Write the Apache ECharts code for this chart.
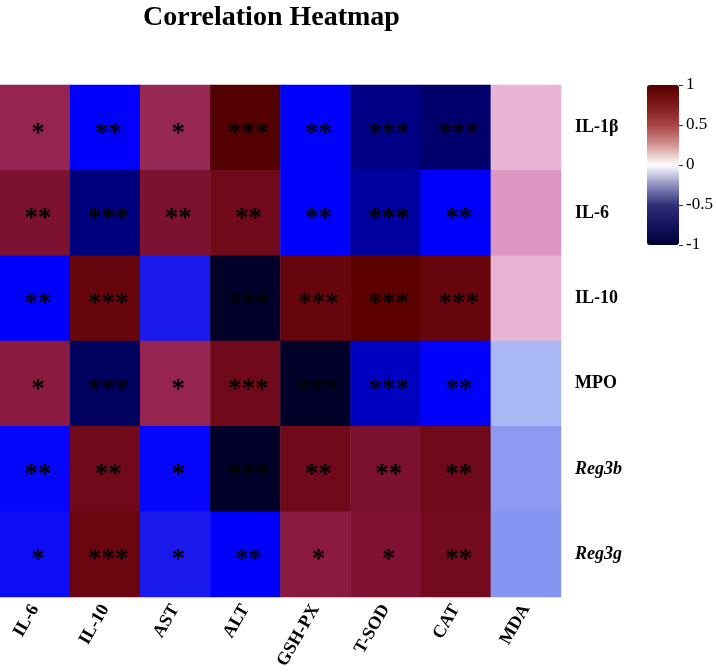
<!DOCTYPE html>
<html><head><meta charset="utf-8">
<script src="https://cdn.jsdelivr.net/npm/echarts/dist/echarts.min.js"></script>
<style>html,body{margin:0;padding:0;background:#fff}#c{width:716px;height:672px}</style>
</head><body><div id="c"></div>
<script>
// Row (y) and column (x) categories
const rowLabels = ['IL-1β', 'IL-6', 'IL-10', 'MPO', 'Reg3b', 'Reg3g'];
const colLabels = ['IL-6', 'IL-10', 'AST', 'ALT', 'GSH-PX', 'T-SOD', 'CAT', 'MDA'];
const italicRows = ['Reg3b', 'Reg3g'];

// Correlation values, one array per row
const corrIL1b  = [0.45, -0.60, 0.44, 0.90, -0.60, -0.77, -0.80, 0.10];
const corrIL6   = [0.58, -0.78, 0.58, 0.66, -0.60, -0.74, -0.60, 0.20];
const corrIL10  = [-0.60, 0.72, -0.52, -0.90, 0.72, 0.80, 0.72, 0.10];
const corrMPO   = [0.50, -0.82, 0.45, 0.66, -0.90, -0.70, -0.60, -0.10];
const corrReg3b = [-0.58, 0.66, -0.58, -0.90, 0.66, 0.58, 0.66, -0.18];
const corrReg3g = [-0.56, 0.70, -0.52, -0.60, 0.50, 0.56, 0.65, -0.20];

// Significance marks, one array per row
const starsIL1b  = ['*', '**', '*', '***', '**', '***', '***', ''];
const starsIL6   = ['**', '***', '**', '**', '**', '***', '**', ''];
const starsIL10  = ['**', '***', '', '***', '***', '***', '***', ''];
const starsMPO   = ['*', '***', '*', '***', '***', '***', '**', ''];
const starsReg3b = ['**', '**', '*', '***', '**', '**', '**', ''];
const starsReg3g = ['*', '***', '*', '**', '*', '*', '**', ''];

// Colour bar ticks
const legendTicks = [-1, -0.5, 0, 0.5, 1];

const corr = [corrIL1b, corrIL6, corrIL10, corrMPO, corrReg3b, corrReg3g];
const stars = [starsIL1b, starsIL6, starsIL10, starsMPO, starsReg3b, starsReg3g];

const heatData = [];
corr.forEach((row, r) => row.forEach((v, c) => heatData.push([c, r, v])));

const serif = 'Liberation Serif';
const chart = echarts.init(document.getElementById('c'), null, {renderer: 'canvas'});
chart.setOption({
  backgroundColor: '#ffffff',
  animation: false,
  title: {
    text: 'Correlation Heatmap',
    left: 143, top: 4, padding: 0,
    textStyle: {fontFamily: serif, fontWeight: 'bold', fontSize: 28, color: '#000'}
  },
  grid: [
    {left: 0, right: 155, top: 85, bottom: 74},
    {left: 647, width: 32, top: 85, height: 160}
  ],
  xAxis: [
    {
      type: 'category', data: colLabels, gridIndex: 0,
      axisLine: {show: false}, axisTick: {show: false}, splitLine: {show: false},
      axisLabel: {rotate: 60, interval: 0, margin: 9, color: '#000',
        fontFamily: serif, fontWeight: 'bold', fontSize: 18}
    },
    {type: 'value', gridIndex: 1, show: false, min: 0, max: 1}
  ],
  yAxis: [
    {
      type: 'category', data: rowLabels, gridIndex: 0, inverse: true, position: 'right',
      axisLine: {show: false}, axisTick: {show: false}, splitLine: {show: false},
      axisLabel: {
        margin: 14, color: '#000', fontFamily: serif, fontWeight: 'bold', fontSize: 18,
        formatter: v => italicRows.includes(v) ? '{i|' + v + '}' : v,
        rich: {i: {fontFamily: serif, fontWeight: 'bold', fontStyle: 'italic', fontSize: 18, color: '#000'}}
      }
    },
    {
      type: 'value', gridIndex: 1, position: 'right', min: legendTicks[0],
      max: legendTicks[legendTicks.length - 1], interval: 0.5,
      axisLine: {show: true, onZero: false, lineStyle: {color: 'rgba(0,0,0,0)'}},
      splitLine: {show: false},
      axisTick: {show: true, inside: false, length: 4, lineStyle: {color: '#333', width: 1}},
      axisLabel: {margin: 7, color: '#000', fontFamily: serif, fontSize: 17,
        formatter: v => String(v)}
    }
  ],
  visualMap: [
    {
      type: 'continuous', show: false, seriesIndex: 0, dimension: 2, min: -1, max: 1,
      inRange: {color: ['#000010', '#000028', '#00006c', '#0000c0', '#0000ff', '#2020e8',
        '#4050ec', '#6070ee', '#8494f0', '#aab8f4', '#ffffff', '#e8b4d4', '#dc96c4',
        '#c06090', '#a03060', '#8a1a40', '#7a0f2c', '#6a0610', '#5c0000', '#520000', '#4a0000']}
    },
    {
      type: 'continuous', show: true, seriesIndex: 1, min: -1, max: 1, z: 1,
      left: 647, top: 85, itemWidth: 32, itemHeight: 160, padding: 0,
      calculable: false, realtime: false, showLabel: false, hoverLink: false,
      indicatorSize: 0, indicatorStyle: {opacity: 0},
      inRange: {color: ['#000033', '#141460', '#303078', '#8f8fc0', '#ffffff',
        '#d49595', '#a84444', '#801818', '#550000']}
    }
  ],
  series: [
    {
      type: 'heatmap', xAxisIndex: 0, yAxisIndex: 0, data: heatData,
      itemStyle: {borderWidth: 0},
      emphasis: {disabled: true},
      label: {
        show: true, color: '#000', fontFamily: serif, fontWeight: 'bold', fontSize: 27, offset: [3, 6],
        formatter: p => stars[p.data[1]][p.data[0]]
      }
    },
    {type: 'scatter', xAxisIndex: 1, yAxisIndex: 1, data: [], silent: true}
  ]
});
</script></body></html>
